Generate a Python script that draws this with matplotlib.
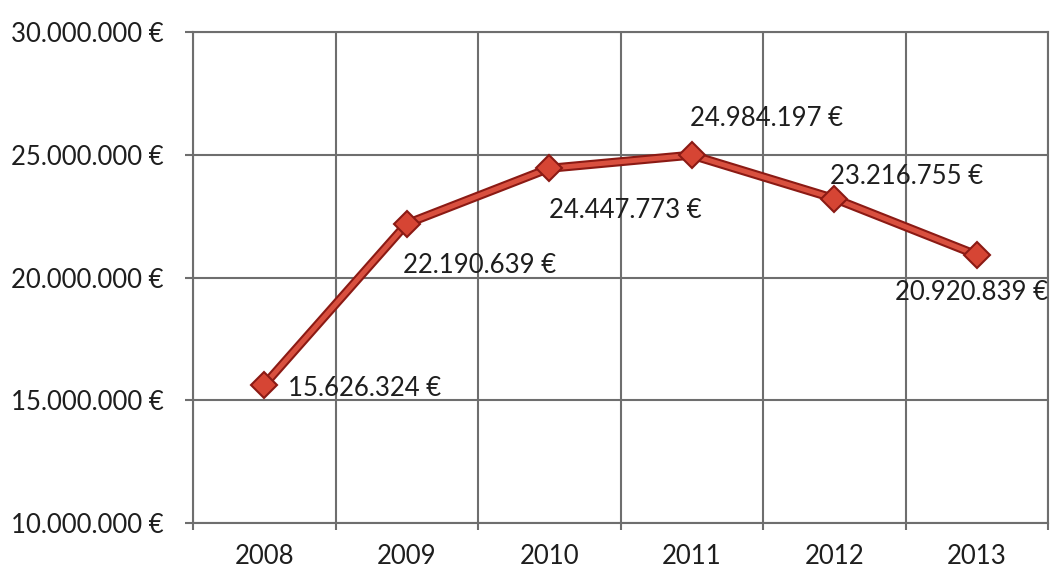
import matplotlib
matplotlib.use("Agg")
import matplotlib.pyplot as plt
from matplotlib.ticker import FixedLocator, FuncFormatter

years = ["2008", "2009", "2010", "2011", "2012", "2013"]
values = [15626324, 22190639, 24447773, 24984197, 23216755, 20920839]
labels = ["15.626.324 €", "22.190.639 €", "24.447.773 €", "24.984.197 €", "23.216.755 €", "20.920.839 €"]
y_ticks = [10000000, 15000000, 20000000, 25000000, 30000000]

# label offsets in pixels (dx, dy, ha)
offsets = [(24, -4, "left"), (73, -42, "center"), (76, -42, "center"),
           (75, 37, "center"), (72, 22, "center"), (-5, -38, "center")]

plt.rcParams['font.family'] = ['Lato', 'DejaVu Sans']
fig = plt.figure(figsize=(10.51, 5.75), dpi=100)
ax = fig.add_axes([193/1051, 1-523/575, (1048-193)/1051, (523-32)/575])

x = list(range(len(years)))
ax.plot(x, values, color="#8b1a14", lw=6.5, solid_capstyle="round", zorder=3)
ax.plot(x, values, color="#d9503f", lw=3.5, marker="D", markersize=13,
        markerfacecolor="#d64534", markeredgecolor="#8b1a14", markeredgewidth=1.5, zorder=4)

for xi, v, lab, (dx, dy, ha) in zip(x, values, labels, offsets):
    ax.annotate(lab, (xi, v), xytext=(dx, dy), textcoords="offset pixels",
                ha=ha, va="center", fontsize=18.5, color="#1e1e1e", zorder=5)

ax.set_xlim(-0.5, len(years) - 0.5)
ax.set_ylim(10000000, 30000000)
ax.yaxis.set_major_locator(FixedLocator(y_ticks))
ax.yaxis.set_major_formatter(FuncFormatter(lambda v, p: f"{int(v):,} €".replace(",", ".")))
ax.set_xticks(x)
ax.set_xticklabels(years)
ax.set_xticks([i - 0.5 for i in range(len(years) + 1)], minor=True)
ax.grid(True, which="major", axis="y", color="#6e6e6e", lw=1.5)
ax.grid(True, which="minor", axis="x", color="#6e6e6e", lw=1.5)
ax.tick_params(axis="x", which="major", length=0, pad=15, labelsize=18.5, labelcolor="#1e1e1e")
ax.tick_params(axis="x", which="minor", length=5, color="#6e6e6e", width=1.5)
ax.tick_params(axis="y", which="major", length=6, color="#6e6e6e", width=1.5, pad=15,
               labelsize=18.5, labelcolor="#1e1e1e")
for s in ax.spines.values():
    s.set_color("#6e6e6e")
    s.set_linewidth(1.5)
ax.set_axisbelow(True)

fig.savefig("out.png", dpi=100)
